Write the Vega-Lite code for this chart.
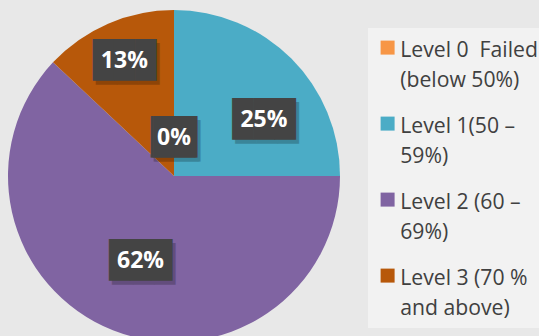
{
  "$schema": "https://vega.github.io/schema/vega-lite/v6.json",
  "width": 332,
  "height": 332,
  "padding": {"left": 8, "top": 10, "right": 0, "bottom": 0},
  "background": "#e8e8e8",
  "config": {"view": {"stroke": null}},
  "data": {
    "values": [
      {"level": "Level 0\u00a0 Failed\n(below 50%)", "pct": 0},
      {"level": "Level 1(50 –\n59%)", "pct": 0.25},
      {"level": "Level 2 (60 –\n69%)", "pct": 0.62},
      {"level": "Level 3 (70 %\nand above)", "pct": 0.13}
    ]
  },
  "encoding": {
    "theta": {"field": "pct", "type": "quantitative", "stack": true},
    "order": {"field": "level", "type": "ordinal", "sort": "ascending"},
    "detail": {"field": "level", "type": "nominal"}
  },
  "layer": [
    {
      "mark": {"type": "arc"},
      "encoding": {
        "color": {
          "field": "level",
          "type": "nominal",
          "scale": {"range": ["#f79646", "#4bacc6", "#8064a2", "#b7580a"]},
          "legend": {
            "orient": "none",
            "legendX": 360,
            "legendY": 18,
            "title": null,
            "symbolType": "square",
            "symbolSize": 196,
            "symbolStrokeWidth": 0,
            "labelFont": "Open Sans",
            "labelFontSize": 21.2,
            "labelColor": "#404040",
            "labelLimit": 400,
            "labelBaseline": "alphabetic",
            "labelOffset": 2,
            "labelExpr": "split(datum.label, '\\n')",
            "fillColor": "#f2f2f2",
            "padding": 9,
            "rowPadding": 22,
            "encode": {"labels": {"update": {"lineHeight": {"value": 30}, "dy": {"value": 9}}}}
          }
        }
      }
    },
    {"mark": {"type": "text", "radius": 125, "font": "DejaVu Sans Mono", "fontSize": 35, "color": "#000000", "opacity": 0.22, "dx": 3, "dy": 4, "baseline": "middle", "align": "center"},
     "encoding": {"text": {"condition": {"test": "indexof(datum.level, 'Level 3') == 0", "value": "███"}, "value": ""}}},
    {"mark": {"type": "text", "radius": 125, "font": "DejaVu Sans Mono", "fontSize": 35, "color": "#444444", "baseline": "middle", "align": "center"},
     "encoding": {"text": {"condition": {"test": "indexof(datum.level, 'Level 3') == 0", "value": "███"}, "value": ""}}},
    {"mark": {"type": "text", "radius": 125, "font": "Open Sans", "fontWeight": "bold", "fontSize": 23, "color": "#ffffff", "baseline": "middle", "align": "center"},
     "encoding": {"text": {"condition": {"test": "indexof(datum.level, 'Level 3') == 0", "field": "pct", "type": "quantitative", "format": ".0%"}, "value": ""}}},

    {"mark": {"type": "text", "radius": 106, "font": "DejaVu Sans Mono", "fontSize": 35, "color": "#000000", "opacity": 0.22, "dx": 18, "dy": 23, "baseline": "middle", "align": "center"},
     "encoding": {"text": {"condition": {"test": "indexof(datum.level, 'Level 1') == 0", "value": "███"}, "value": ""}}},
    {"mark": {"type": "text", "radius": 106, "font": "DejaVu Sans Mono", "fontSize": 35, "color": "#444444", "dx": 15, "dy": 19, "baseline": "middle", "align": "center"},
     "encoding": {"text": {"condition": {"test": "indexof(datum.level, 'Level 1') == 0", "value": "███"}, "value": ""}}},
    {"mark": {"type": "text", "radius": 106, "font": "Open Sans", "fontWeight": "bold", "fontSize": 23, "color": "#ffffff", "dx": 15, "dy": 19, "baseline": "middle", "align": "center"},
     "encoding": {"text": {"condition": {"test": "indexof(datum.level, 'Level 1') == 0", "field": "pct", "type": "quantitative", "format": ".0%"}, "value": ""}}},

    {"mark": {"type": "text", "radius": 91, "font": "DejaVu Sans Mono", "fontSize": 35, "color": "#000000", "opacity": 0.22, "dx": 3, "dy": 4, "baseline": "middle", "align": "center"},
     "encoding": {"text": {"condition": {"test": "indexof(datum.level, 'Level 2') == 0", "value": "███"}, "value": ""}}},
    {"mark": {"type": "text", "radius": 91, "font": "DejaVu Sans Mono", "fontSize": 35, "color": "#444444", "baseline": "middle", "align": "center"},
     "encoding": {"text": {"condition": {"test": "indexof(datum.level, 'Level 2') == 0", "value": "███"}, "value": ""}}},
    {"mark": {"type": "text", "radius": 91, "font": "Open Sans", "fontWeight": "bold", "fontSize": 23, "color": "#ffffff", "baseline": "middle", "align": "center"},
     "encoding": {"text": {"condition": {"test": "indexof(datum.level, 'Level 2') == 0", "field": "pct", "type": "quantitative", "format": ".0%"}, "value": ""}}},

    {"mark": {"type": "text", "radius": 38, "font": "DejaVu Sans Mono", "fontSize": 35, "color": "#000000", "opacity": 0.22, "dx": 3, "dy": 4, "baseline": "middle", "align": "center"},
     "encoding": {"text": {"condition": {"test": "indexof(datum.level, 'Level 0') == 0", "value": "▕██▏"}, "value": ""}}},
    {"mark": {"type": "text", "radius": 38, "font": "DejaVu Sans Mono", "fontSize": 35, "color": "#444444", "baseline": "middle", "align": "center"},
     "encoding": {"text": {"condition": {"test": "indexof(datum.level, 'Level 0') == 0", "value": "▕██▏"}, "value": ""}}},
    {"mark": {"type": "text", "radius": 38, "font": "Open Sans", "fontWeight": "bold", "fontSize": 23, "color": "#ffffff", "baseline": "middle", "align": "center"},
     "encoding": {"text": {"condition": {"test": "indexof(datum.level, 'Level 0') == 0", "field": "pct", "type": "quantitative", "format": ".0%"}, "value": ""}}}
  ]
}
